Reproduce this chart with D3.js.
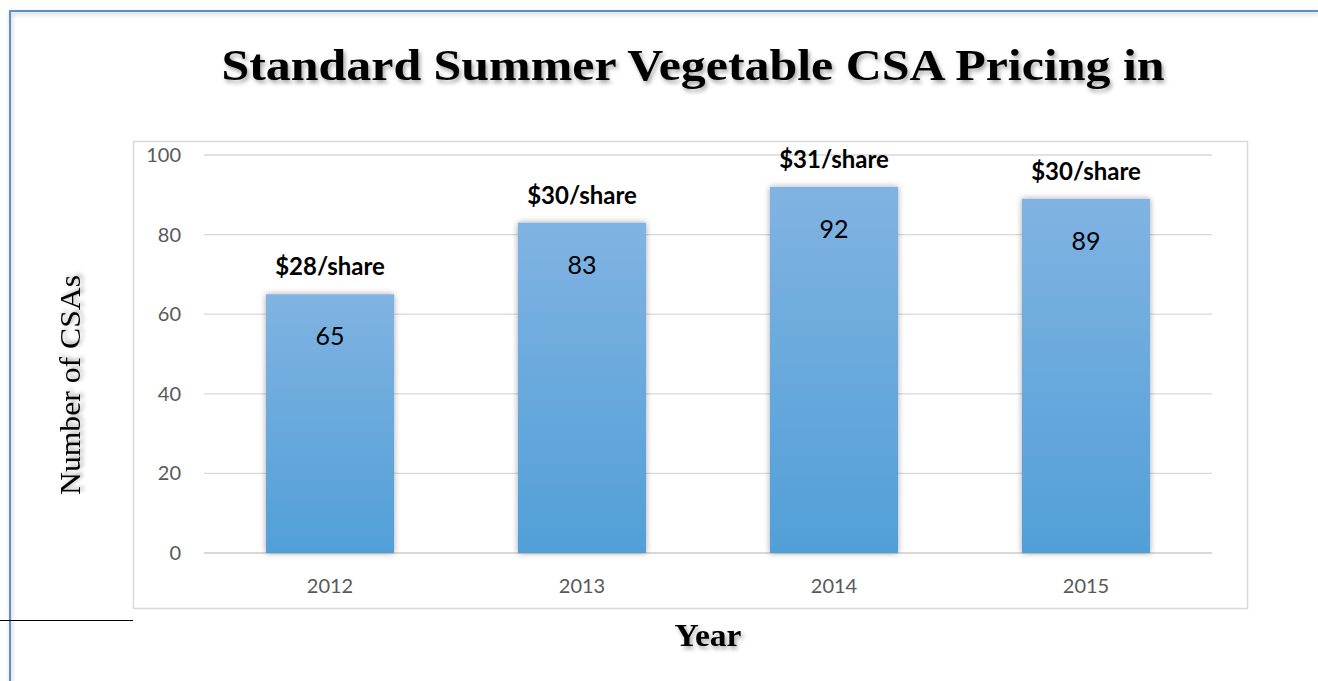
<!DOCTYPE html>
<html>
<head>
<meta charset="utf-8">
<script src="https://cdn.jsdelivr.net/npm/d3@7"></script>
<style>
  body { margin: 0; background: #fff; }
  svg { display: block; }
</style>
</head>
<body>
<div class="box"></div>
<script>
// DATA
const years = ['2012', '2013', '2014', '2015'];
const counts = [65, 83, 92, 89];
const prices = ['$28/share', '$30/share', '$31/share', '$30/share'];
const yTicks = [0, 20, 40, 60, 80, 100];

// SETUP
const dims = {width: 1318, height: 681};
const plot = {left: 204, right: 1212, top: 155, bottom: 553};

const svg = d3.select('.box')
              .append('svg')
              .attr('width', dims.width)
              .attr('height', dims.height);

const defs = svg.append('defs');

// bar gradient
const grad = defs.append('linearGradient')
                 .attr('id', 'barGrad')
                 .attr('x1', 0).attr('y1', 0).attr('x2', 0).attr('y2', 1);
grad.append('stop').attr('offset', '0%').attr('stop-color', '#80b3e2');
grad.append('stop').attr('offset', '100%').attr('stop-color', '#519fd7');

// soft shadows
const barShadow = defs.append('filter').attr('id', 'barShadow')
                      .attr('x', '-20%').attr('y', '-10%').attr('width', '140%').attr('height', '120%');
barShadow.append('feDropShadow').attr('dx', 0).attr('dy', 0).attr('stdDeviation', 3)
         .attr('flood-color', '#000').attr('flood-opacity', 0.35);

const textShadow = defs.append('filter').attr('id', 'textShadow')
                       .attr('x', '-10%').attr('y', '-30%').attr('width', '120%').attr('height', '160%');
textShadow.append('feDropShadow').attr('dx', 2).attr('dy', 3).attr('stdDeviation', 2)
          .attr('flood-color', '#000').attr('flood-opacity', 0.35);

const frameShadow = defs.append('filter').attr('id', 'frameShadow')
                        .attr('x', '-5%').attr('y', '-5%').attr('width', '110%').attr('height', '110%');
frameShadow.append('feDropShadow').attr('dx', 1).attr('dy', 2).attr('stdDeviation', 2)
           .attr('flood-color', '#000').attr('flood-opacity', 0.25);

// outer blue frame (top + left)
svg.append('path')
   .attr('d', `M10,${dims.height} L10,11 L${dims.width},11`)
   .attr('fill', 'none')
   .attr('stroke', '#5b8fcb')
   .attr('stroke-width', 2)
   .attr('filter', 'url(#frameShadow)');

// plot area border
svg.append('rect')
   .attr('x', 133.5).attr('y', 141.5)
   .attr('width', 1114).attr('height', 467)
   .attr('fill', '#fff')
   .attr('stroke', '#d9d9d9')
   .attr('stroke-width', 1.5);

// short black rule at bottom left
svg.append('line')
   .attr('x1', 0).attr('x2', 133).attr('y1', 620.5).attr('y2', 620.5)
   .attr('stroke', '#000').attr('stroke-width', 1);

// scales
const x = d3.scaleBand()
            .domain(years)
            .range([plot.left, plot.right])
            .paddingInner(0.492)
            .paddingOuter(0.246);

const y = d3.scaleLinear()
            .domain([0, 100])
            .range([plot.bottom, plot.top]);

// gridlines
svg.append('g')
   .selectAll('line')
   .data(yTicks)
   .enter()
   .append('line')
   .attr('x1', plot.left).attr('x2', plot.right)
   .attr('y1', d => y(d)).attr('y2', d => y(d))
   .attr('stroke', '#d9d9d9')
   .attr('stroke-width', d => d === 0 ? 2 : 1.3);

// y axis
const yAxis = svg.append('g')
                 .attr('transform', 'translate(181,0)')
                 .call(d3.axisLeft(y).tickValues(yTicks).tickSize(0).tickPadding(0));
yAxis.select('.domain').remove();
yAxis.selectAll('text')
     .attr('fill', '#595959')
     .style('font-family', 'Lato, "Open Sans", sans-serif')
     .style('font-size', '20px');

// x axis
const xAxis = svg.append('g')
                 .attr('transform', `translate(0,${plot.bottom})`)
                 .call(d3.axisBottom(x).tickSize(0).tickPadding(26));
xAxis.select('.domain').remove();
xAxis.selectAll('text')
     .attr('fill', '#595959')
     .style('font-family', 'Lato, "Open Sans", sans-serif')
     .style('font-size', '20px');

// bars
const data = years.map((yr, i) => ({year: yr, count: counts[i], price: prices[i]}));

const bars = svg.append('g').selectAll('g.bar')
                .data(data)
                .enter()
                .append('g')
                .attr('class', 'bar');

bars.append('rect')
    .attr('x', d => x(d.year))
    .attr('y', d => y(d.count))
    .attr('width', x.bandwidth())
    .attr('height', d => y(0) - y(d.count))
    .attr('fill', 'url(#barGrad)')
    .attr('filter', 'url(#barShadow)');

// value inside bar
bars.append('text')
    .attr('x', d => x(d.year) + x.bandwidth() / 2)
    .attr('y', d => y(d.count) + 51)
    .attr('text-anchor', 'middle')
    .attr('fill', '#000')
    .style('font-family', 'Lato, "Open Sans", sans-serif')
    .style('font-size', '25px')
    .text(d => d.count);

// price above bar
bars.append('text')
    .attr('x', d => x(d.year) + x.bandwidth() / 2)
    .attr('y', d => y(d.count) - 19)
    .attr('text-anchor', 'middle')
    .attr('fill', '#000')
    .style('font-family', 'Lato, "Open Sans", sans-serif')
    .style('font-weight', 'bold')
    .style('font-size', '24px')
    .text(d => d.price);

// title
svg.append('text')
   .attr('x', 693)
   .attr('y', 80)
   .attr('text-anchor', 'middle')
   .attr('filter', 'url(#textShadow)')
   .style('font-family', '"Liberation Serif", "DejaVu Serif", serif')
   .style('font-weight', 'bold')
   .style('font-size', '45px')
   .attr('textLength', 943)
   .attr('lengthAdjust', 'spacingAndGlyphs')
   .text('Standard Summer Vegetable CSA Pricing in');

// y label
svg.append('text')
   .attr('transform', 'translate(80,385) rotate(-90)')
   .attr('text-anchor', 'middle')
   .attr('filter', 'url(#textShadow)')
   .style('font-family', '"Liberation Serif", "DejaVu Serif", serif')
   .style('font-size', '30px')
   .attr('textLength', 220)
   .attr('lengthAdjust', 'spacingAndGlyphs')
   .text('Number of CSAs');

// x label
svg.append('text')
   .attr('x', 708)
   .attr('y', 646)
   .attr('text-anchor', 'middle')
   .attr('filter', 'url(#textShadow)')
   .style('font-family', '"Liberation Serif", "DejaVu Serif", serif')
   .style('font-weight', 'bold')
   .style('font-size', '31px')
   .attr('textLength', 67)
   .attr('lengthAdjust', 'spacingAndGlyphs')
   .text('Year');
</script>
</body>
</html>
